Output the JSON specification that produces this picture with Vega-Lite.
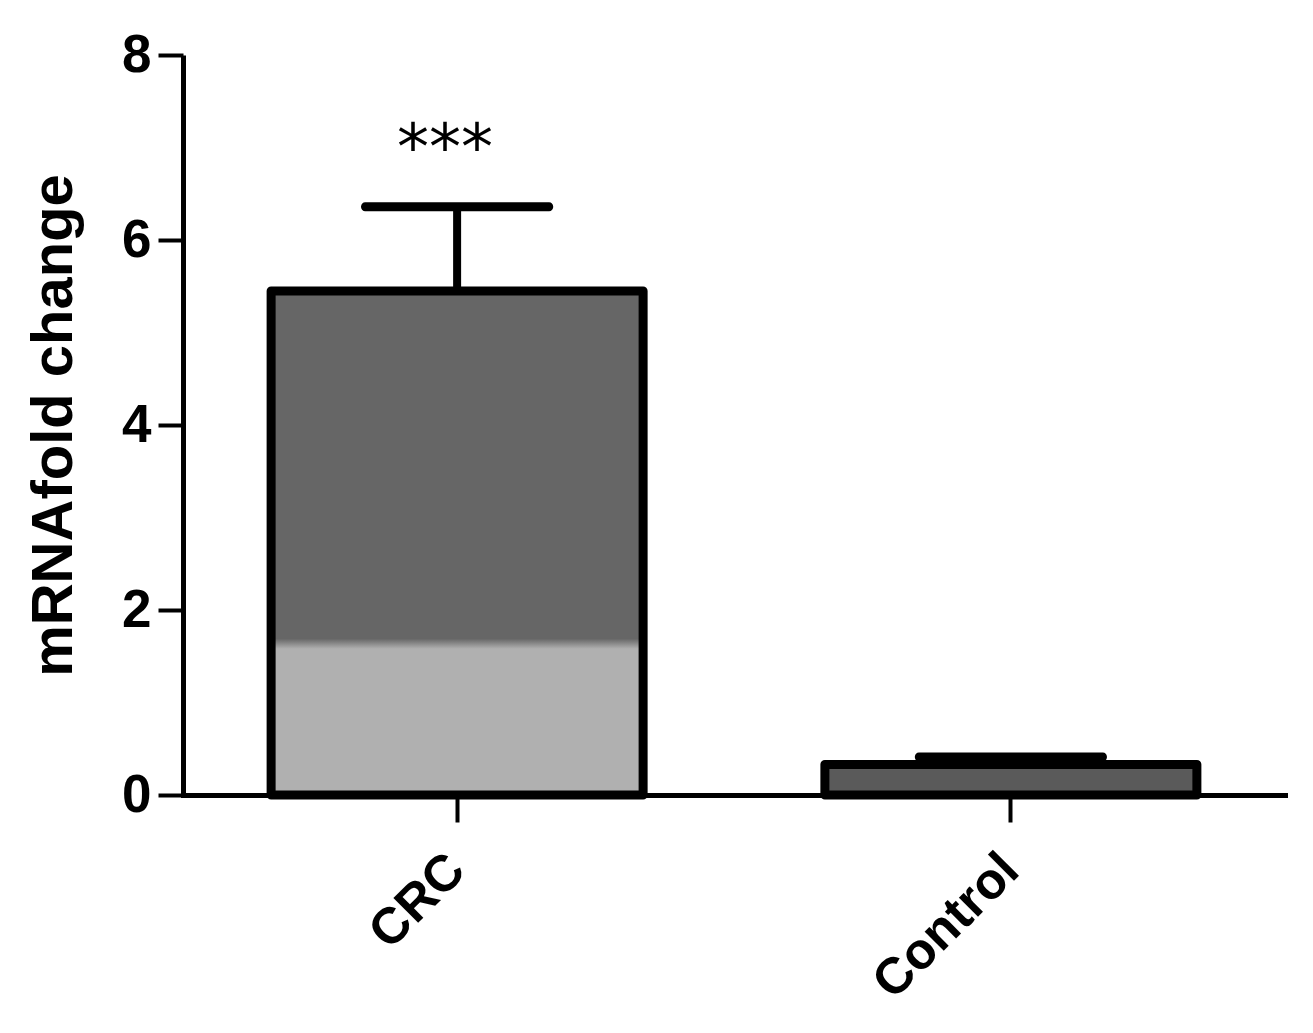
{
  "$schema": "https://vega.github.io/schema/vega-lite/v6.json",
  "width": 1102,
  "height": 740,
  "autosize": {"type": "none"},
  "padding": {"left": 183, "top": 55, "right": 28, "bottom": 238},
  "background": "white",
  "config": {
    "view": {"stroke": null},
    "font": "Liberation Sans"
  },
  "data": {
    "values": [
      {"group": "CRC", "mean": 5.45, "upper": 6.36, "sig": "***"},
      {"group": "Control", "mean": 0.33, "upper": 0.41, "sig": ""}
    ]
  },
  "encoding": {
    "x": {
      "field": "group",
      "type": "nominal",
      "sort": ["CRC", "Control"],
      "scale": {"paddingInner": 0.33, "paddingOuter": 0.16},
      "axis": {
        "title": null,
        "labelAngle": -45,
        "labelAlign": "right",
        "labelBaseline": "middle",
        "labelFont": "Liberation Sans",
        "labelFontWeight": "bold",
        "labelFontSize": 51,
        "labelColor": "black",
        "labelPadding": 40,
        "labelLimit": 0,
        "labelOverlap": false,
        "domainColor": "black",
        "domainWidth": 5,
        "tickColor": "black",
        "tickWidth": 4,
        "tickSize": 27,
        "domainCap": "square"
      }
    }
  },
  "layer": [
    {
      "mark": {"type": "bar", "stroke": "black", "strokeWidth": 9, "strokeJoin": "round", "width": 372},
      "encoding": {
        "y": {
          "field": "mean",
          "type": "quantitative",
          "scale": {"domain": [0, 8], "nice": false},
          "axis": {
            "values": [0, 2, 4, 6, 8],
            "format": "d",
            "title": "mRNAfold change",
            "titleFont": "Liberation Sans",
            "titleFontWeight": "bold",
            "titleFontSize": 58,
            "titleColor": "black",
            "titlePadding": 38,
            "labelFont": "Liberation Sans",
            "labelFontWeight": "bold",
            "labelFontSize": 53,
            "labelColor": "black",
            "labelPadding": 7,
            "grid": false,
            "domainColor": "black",
            "domainWidth": 5,
            "tickColor": "black",
            "tickWidth": 4,
            "tickSize": 25
          }
        },
        "fill": {
          "condition": {
            "test": "datum.group === 'CRC'",
            "value": {
              "gradient": "linear",
              "x1": 0, "y1": 0, "x2": 0, "y2": 1,
              "stops": [
                {"offset": 0, "color": "#666666"},
                {"offset": 0.69, "color": "#666666"},
                {"offset": 0.71, "color": "#b0b0b0"},
                {"offset": 1, "color": "#b0b0b0"}
              ]
            }
          },
          "value": "#5a5a5a"
        }
      }
    },
    {
      "mark": {"type": "rule", "color": "black", "strokeWidth": 8},
      "encoding": {
        "y": {"field": "mean", "type": "quantitative"},
        "y2": {"field": "upper"}
      }
    },
    {
      "mark": {"type": "tick", "color": "black", "thickness": 9, "size": 192, "cornerRadius": 4, "opacity": 1},
      "encoding": {
        "y": {"field": "upper", "type": "quantitative"}
      }
    },
    {
      "mark": {"type": "text", "font": "DejaVu Sans", "fontSize": 64, "color": "black", "baseline": "middle", "dx": -12},
      "encoding": {
        "y": {"field": "upper", "type": "quantitative"},
        "yOffset": {"value": -57},
        "text": {"field": "sig"}
      }
    }
  ]
}
